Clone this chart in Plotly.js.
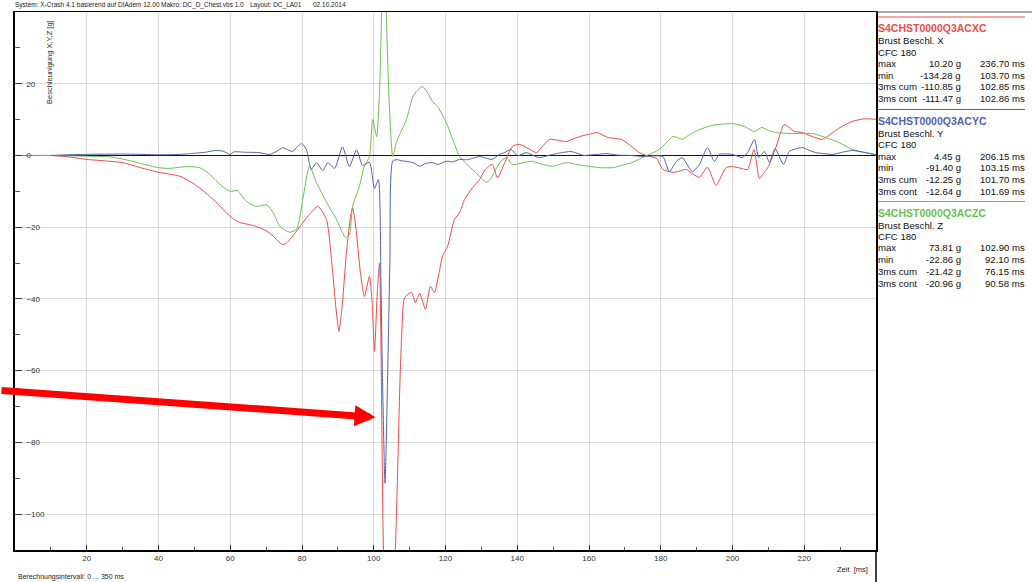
<!DOCTYPE html>
<html>
<head>
<meta charset="utf-8">
<script src="https://cdn.plot.ly/plotly-3.0.1.min.js"></script>
<style>
html,body{margin:0;padding:0;background:#fff;}
#chart{width:1032px;height:582px;}
</style>
</head>
<body>
<div id="chart"></div>
<script>
// ---- Data (time in ms, acceleration in g) ----
const redT = [10,15,20,25,30,35,40,43,46,50,53,56,60,62.6,65,67,70,72,74.4,75.6,77,79.3,82,84.4,86.8,88.5,89.5,90.3,91.2,92.3,93.4,94.1,95,96.2,97.4,98.8,99.6,100.2,101,101.6,102.1,102.7,103.7,105,106,107.4,108.2,108.6,110.5,111.6,112.8,114.4,115.8,116.9,119.2,120.6,122.5,123.9,125.3,127.5,129.5,131,133,134.5,136.5,138.6,140.6,143,145.4,147,149,151,153.7,156,158.6,160.5,162.3,165.3,169,171.5,174,176.5,178.8,180.6,183.4,185,187,189,190.8,193,195.4,197,198.3,200,202,204.2,206,207.5,209,210,212,214.4,215.8,217.2,219.4,222.2,225,228,230,233.4,236.7,240];
const redG = [0,-0.4,-1.1,-1.5,-2,-3.4,-4.7,-5.2,-5.8,-8,-10.3,-13,-17,-18.7,-19.2,-19.7,-21,-22.5,-24.8,-24.5,-23,-20,-16.5,-14.2,-17.8,-32,-43,-49,-42,-28,-18,-14.5,-20,-32,-39.3,-33.7,-42,-54.6,-38,-30,-60,-110,-134.28,-125,-110,-60,-42,-39.6,-38.2,-41,-38.4,-42.9,-36.5,-38.2,-28,-25.3,-17.8,-16,-12.3,-9,-6.7,-4,-2.5,-6.2,-2,2.5,3.1,2,0.8,2.5,4.5,4.3,3.9,4.8,5.6,6,6.4,5,4.5,2.8,0.8,-0.2,-0.8,-3.9,-4.7,-4.4,-3.9,-5.2,-6.1,-3.3,-8.4,-5.5,-3.3,-3.1,-3.5,-3.9,1.7,-6.4,-4.5,-3.1,2,8.6,7.8,6.7,6.4,5.3,4.5,6.4,7.8,9.5,10.2,10.1];

const blueT = [10,15,20,30,40,46,50,53,56,58,60,61,64,68,71,73,74.6,76,77.4,78.7,79.9,81.2,82.6,84,85.8,87.2,89.1,91.3,93.2,95.2,96.9,98.8,100.2,101.3,102,102.4,103.15,103.9,104.5,105.3,106.5,108,110.9,112.8,114.5,116.4,118,120.2,122,123.9,126,129.5,131.5,133,135,136.5,138.3,140.1,142.5,146,149.8,152,155,158.6,160,162.3,165,168,171.6,175.4,178,180.6,182.4,184.3,186,188.8,190.8,193,195,196.3,200,202.7,204.2,206.15,207.3,208.9,210.3,211.9,214.2,215.8,217.5,219.4,221,223.2,225.5,228,231,233.4,237,240];
const blueG = [0,0.2,0.3,0.4,0.2,0.3,0.6,0.9,1.4,1.2,0.3,1,0.9,0.8,0.3,1.2,2.2,1.6,1.1,2.5,3.3,1.7,-3.9,-2,-4.2,-2,-3.6,2.4,-3.1,1.6,-2.8,-1.9,-9.2,-6.7,-35,-60,-91.4,-60,-30,-1.5,-1.2,-1.5,-2,-3,-2.2,-2,-2.5,-1.6,-1.8,-1.1,-1.2,-0.3,-0.8,-1.1,0.3,0.8,1.7,-0.1,0.8,-0.6,0.3,0.7,1.1,0,0.1,0.3,0.5,0.1,0,-0.3,-0.1,-0.3,-4.5,-1.7,-0.6,-4.5,-2.5,2.2,-1.7,0.3,0.3,-0.6,0.8,4.45,-0.6,1.1,-1.9,1.9,-2.5,1.1,1.8,2.2,1.6,0.8,0.5,0.3,1,1.4,0.8,0.2];

const greenT = [0,10,20,26.4,30,35,40,43,47.8,51.5,54,56,58,60,62,64.5,67.3,70.2,72,73.8,76.5,78.5,80.2,82.1,84,86.8,89.6,92.1,93.2,94.1,96,97.4,98.8,99.7,100.8,101.6,102.2,102.9,103.5,104.3,105.3,106.3,107.5,109.1,110.9,112,113.6,115,116.4,117.8,119,120.2,122,123.9,125.5,127.5,129.5,131.4,132.8,134,135.5,137,138.6,141,144,147,149.8,153.7,157,160,163,166.6,169,172,175.4,177.5,179.6,181.5,183.4,186,188,190.8,193,195.4,198,200,202,203.9,206,208.2,210,212,216.6,222.2,226,229.7,233.4,237,240];
const greenG = [0,0,-0.2,-0.4,-1,-2.2,-3.4,-3.6,-3.1,-3.4,-5,-7,-8.8,-10,-9.8,-12.8,-14.2,-13.8,-16,-19.7,-21.4,-20.6,-12.3,-3,-7.5,-13,-17.8,-22.86,-22,-14.2,-8.6,-3,-0.3,10,5.3,17.5,40,73.81,40,15,-0.3,3.6,6.5,10,16.4,18,19.2,17.5,15,13.7,11.5,9.2,4.5,-0.3,-2,-3.9,-5.8,-7.5,-6.2,-3.9,-1.5,-0.6,-2.5,-2.2,-1.6,-2.5,-3,-2,-2.6,-3,-3.4,-3.4,-2.8,-2,-0.3,0.6,1.7,3.5,5.3,4.5,5.8,7.2,8,8.6,8.8,8.9,8.5,7.8,6.7,7.8,7,6.4,6.1,6.1,5,3.6,1.7,0.8,0.2];

// ---- Axis tick labels ----
const xTickVals = [20,40,60,80,100,120,140,160,180,200,220];
const yTickVals = [-100,-80,-60,-40,-20,0,20,40];

// ---- Legend panel texts ----
const channelNames = ["S4CHST0000Q3ACXC","S4CHST0000Q3ACYC","S4CHST0000Q3ACZC"];
const channelDesc = ["Brust Beschl. X","Brust Beschl. Y","Brust Beschl. Z"];
const channelCfc = ["CFC 180","CFC 180","CFC 180"];
const statLabels = ["max","min","3ms cum","3ms cont"];
const statValuesX = ["10.20 g","-134.28 g","-110.85 g","-111.47 g"];
const statTimesX = ["236.70 ms","103.70 ms","102.85 ms","102.86 ms"];
const statValuesY = ["4.45 g","-91.40 g","-12.25 g","-12.64 g"];
const statTimesY = ["206.15 ms","103.15 ms","101.70 ms","101.69 ms"];
const statValuesZ = ["73.81 g","-22.86 g","-21.42 g","-20.96 g"];
const statTimesZ = ["102.90 ms","92.10 ms","76.15 ms","90.58 ms"];

const headerParts = ["System: X-Crash 4.1 basierend auf DIAdem 12.00","Makro: DC_D_Chest.vbs 1.0","Layout: DC_LA01","02.10.2014"];

const RED = '#f04a4a', BLUE = '#5063b3', GREEN = '#6cbf50';
const FONT = 'Liberation Sans, Arial, sans-serif';

// plot area geometry in pixels
const L = 15, R = 876, T = 12, B = 550;
const px = x => (x - L) / (R - L);
const py = y => (B - y) / (B - T);

const annotations = [];
const shapes = [];

function txt(x, y, text, opt) {
  annotations.push(Object.assign({
    xref: 'paper', yref: 'paper', x: px(x), y: py(y), text: text,
    showarrow: false, xanchor: 'left', yanchor: 'middle', borderpad: 0,
    font: {family: FONT, size: 9.6, color: '#111'}
  }, opt || {}));
}

// header
const headerX = [14, 160, 249, 312];
headerParts.forEach((h, i) => txt(headerX[i], 5, h, {font: {family: FONT, size: 6.5, color: '#222'}}));

// bottom texts
txt(17, 577, "Berechnungsintervall: 0 ... 350 ms", {font: {family: FONT, size: 7, color: '#222'}});
txt(869, 569, "Zeit&nbsp;&nbsp;[ms]", {xanchor: 'right', font: {family: FONT, size: 7.5, color: '#222'}});

// y-axis title
txt(50, 62, "Beschleunigung X,Y,Z [g]", {xanchor: 'center', textangle: -90, font: {family: FONT, size: 7.5, color: '#333'}});

// legend panel
const colors = [RED, BLUE, GREEN];
const vals = [statValuesX, statValuesY, statValuesZ];
const times = [statTimesX, statTimesY, statTimesZ];
const sectionTop = [17, 109.5, 201.5];
for (let s = 0; s < 3; s++) {
  const y0 = sectionTop[s];
  shapes.push({type: 'line', xref: 'paper', yref: 'paper', x0: px(878), x1: px(1025), y0: py(y0), y1: py(y0),
               line: {color: colors[s], width: 1}});
  txt(877, y0 + 11.5, '<b>' + channelNames[s] + '</b>', {font: {family: FONT, size: 10.5, color: colors[s]}});
  txt(877, y0 + 23.5, channelDesc[s]);
  txt(877, y0 + 35, channelCfc[s]);
  for (let k = 0; k < 4; k++) {
    const yy = y0 + 46.5 + k * 11.7;
    txt(877, yy, statLabels[k]);
    txt(962, yy, vals[s][k], {xanchor: 'right'});
    txt(1026, yy, times[s][k], {xanchor: 'right'});
  }
}
// panel border continuation lines
shapes.push({type: 'line', xref: 'paper', yref: 'paper', x0: px(876), x1: px(876), y0: py(550), y1: py(582), line: {color: '#000', width: 1.5}});
shapes.push({type: 'line', xref: 'paper', yref: 'paper', x0: px(876), x1: px(1032), y0: py(12), y1: py(12), line: {color: '#555', width: 1}});

// red arrow
annotations.push({
  xref: 'x', yref: 'y', x: 100.5, y: -73, ax: -378, ay: -27, axref: 'pixel', ayref: 'pixel',
  showarrow: true, arrowhead: 2, arrowsize: 0.6, arrowwidth: 7, arrowcolor: '#ff0000', text: '', standoff: 0
});

const lineStyle = c => ({color: c, width: 1, shape: 'spline', smoothing: 0.6});
const traces = [
  {x: redT, y: redG, type: 'scatter', mode: 'lines', line: lineStyle(RED), hoverinfo: 'skip'},
  {x: greenT, y: greenG, type: 'scatter', mode: 'lines', line: lineStyle(GREEN), hoverinfo: 'skip'},
  {x: blueT, y: blueG, type: 'scatter', mode: 'lines', line: lineStyle(BLUE), hoverinfo: 'skip'}
];

const layout = {
  width: 1032, height: 582,
  margin: {l: L, r: 1032 - R, t: T, b: 582 - B, pad: 0},
  paper_bgcolor: '#fff', plot_bgcolor: '#fff',
  showlegend: false,
  font: {family: FONT, size: 8, color: '#333'},
  xaxis: {
    range: [0, 240], tickmode: 'array', tickvals: xTickVals,
    showgrid: true, gridcolor: '#d9d9d9', gridwidth: 1,
    zeroline: false,
    showline: true, linecolor: '#000', linewidth: 1.5, mirror: true,
    ticks: 'inside', ticklen: 5, tickcolor: '#333', tickwidth: 1,
    minor: {dtick: 10, tick0: 0, ticks: 'inside', ticklen: 3, tickcolor: '#555', showgrid: false},
    tickfont: {family: FONT, size: 8, color: '#333'},
    showticklabels: true
  },
  yaxis: {
    range: [-110, 40], tickmode: 'array', tickvals: yTickVals,
    showgrid: true, gridcolor: '#d9d9d9', gridwidth: 1,
    zeroline: true, zerolinecolor: '#111', zerolinewidth: 1,
    showline: true, linecolor: '#000', linewidth: 2, mirror: true,
    ticks: 'inside', ticklen: 7, tickcolor: '#333',
    minor: {dtick: 10, tick0: 0, ticks: 'inside', ticklen: 5, tickcolor: '#555', showgrid: false},
    ticklabelposition: 'inside', ticklabelstandoff: 3,
    tickfont: {family: FONT, size: 8, color: '#333'}
  },
  annotations: annotations,
  shapes: shapes
};

Plotly.newPlot('chart', traces, layout, {staticPlot: true, displayModeBar: false});
</script>
</body>
</html>
